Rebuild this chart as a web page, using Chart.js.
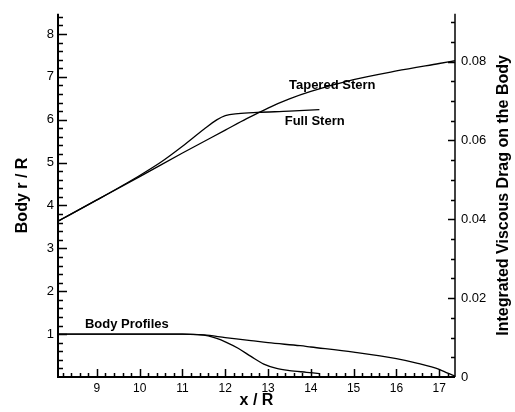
<!DOCTYPE html>
<html>
<head>
<meta charset="utf-8">
<script src="https://cdn.jsdelivr.net/npm/chart.js@4/dist/chart.umd.min.js"></script>
<style>
  html, body { margin: 0; padding: 0; background: #fff; }
  canvas { display: block; }
</style>
</head>
<body>
<canvas id="chart" width="515" height="412"></canvas>
<script>
// integrated viscous drag (right axis)
const taperedDragX = [8.09, 9, 10, 11, 12, 12.5, 13, 13.5, 14, 15, 16, 17, 17.37];
const taperedDragY = [0.0395, 0.0449, 0.0508, 0.0568, 0.0626, 0.0655, 0.0682, 0.0705, 0.0724, 0.0754, 0.0776, 0.0795, 0.0802];
const fullDragX = [8.09, 9, 10, 10.5, 11, 11.5, 11.8, 12, 12.3, 12.75, 13.5, 14.2];
const fullDragY = [0.0395, 0.0449, 0.0511, 0.0545, 0.0585, 0.0628, 0.0652, 0.0663, 0.0668, 0.0671, 0.0674, 0.0678];

// body profiles r/R (left axis)
const taperedBodyX = [8.09, 9, 10, 11, 11.5, 12, 12.6, 13, 13.75, 14, 15, 16, 16.5, 17, 17.2, 17.37];
const taperedBodyY = [1, 1, 1, 1, 0.98, 0.92, 0.85, 0.8, 0.73, 0.7, 0.58, 0.43, 0.32, 0.18, 0.09, 0.02];
const fullBodyX = [8.09, 9, 10, 11, 11.34, 11.6, 11.8, 12, 12.3, 12.6, 12.9, 13.2, 13.5, 13.9, 14.2];
const fullBodyY = [1, 1, 1, 1, 0.99, 0.96, 0.9, 0.82, 0.67, 0.48, 0.3, 0.2, 0.15, 0.11, 0.08];

// tick labels
const xTicks = [9, 10, 11, 12, 13, 14, 15, 16, 17];
const rTicks = [1, 2, 3, 4, 5, 6, 7, 8];
const dragTicks = [0, 0.02, 0.04, 0.06, 0.08];

const font = "'Liberation Sans', Arial, Helvetica, sans-serif";

// text placed on the plot, in data coordinates
const curveLabels = [
  { text: "Tapered Stern", x: 14.5, y: 0.074, axis: "y1" },
  { text: "Full Stern", x: 14.09, y: 0.0647, axis: "y1" },
  { text: "Body Profiles", x: 9.7, y: 1.23, axis: "y" },
];

const toPoints = (xs, ys) => xs.map((x, i) => ({ x: x, y: ys[i] }));

const lineSet = (data, axis) => ({
  data: data,
  yAxisID: axis,
  borderColor: "#000",
  borderWidth: 1.3,
  pointRadius: 0,
  fill: false,
  cubicInterpolationMode: "monotone",
});

// axis lines and inward tick marks, drawn from the scales
const axisPlugin = {
  id: "axisTicks",
  afterDraw(chart) {
    const { ctx, chartArea: a } = chart;
    const x = chart.scales.x;
    const y = chart.scales.y;
    const y1 = chart.scales.y1;
    ctx.save();
    ctx.strokeStyle = "#000";

    ctx.lineWidth = 2;
    ctx.beginPath();
    ctx.moveTo(a.left, a.top);
    ctx.lineTo(a.left, a.bottom);
    ctx.lineTo(a.right, a.bottom);
    ctx.stroke();
    ctx.lineWidth = 1.5;
    ctx.beginPath();
    ctx.moveTo(a.right, a.top);
    ctx.lineTo(a.right, a.bottom);
    ctx.stroke();

    ctx.lineWidth = 1.5;
    ctx.beginPath();
    for (let i = 1; i * 0.2 <= y.max + 1e-9; i++) {
      const py = Math.round(y.getPixelForValue(i * 0.2)) + 0.5;
      const len = i % 5 === 0 ? 9 : 5;
      ctx.moveTo(a.left, py);
      ctx.lineTo(a.left + len, py);
    }
    for (let i = 41; i * 0.2 < x.max; i++) {
      const px = Math.round(x.getPixelForValue(i * 0.2)) + 0.5;
      const len = i % 5 === 0 ? 8 : 4;
      ctx.moveTo(px, a.bottom);
      ctx.lineTo(px, a.bottom - len);
    }
    for (let i = 1; i * 0.005 <= y1.max + 1e-9; i++) {
      const py = Math.round(y1.getPixelForValue(i * 0.005)) + 0.5;
      const len = i % 4 === 0 ? 7 : 4;
      ctx.moveTo(a.right, py);
      ctx.lineTo(a.right - len, py);
    }
    ctx.stroke();

    // curve labels
    ctx.fillStyle = "#000";
    ctx.font = "bold 13px " + font;
    ctx.textAlign = "center";
    ctx.textBaseline = "middle";
    curveLabels.forEach((l) => {
      const sc = chart.scales[l.axis];
      ctx.fillText(l.text, x.getPixelForValue(l.x), sc.getPixelForValue(l.y));
    });

    // right axis title, reading upward
    ctx.translate(504, (a.top + a.bottom) / 2);
    ctx.rotate(-Math.PI / 2);
    ctx.font = "bold 16px " + font;
    ctx.fillText("Integrated Viscous Drag on the Body", 0, 0);
    ctx.restore();
  },
};

new Chart(document.getElementById("chart"), {
  type: "line",
  data: {
    datasets: [
      lineSet(toPoints(taperedDragX, taperedDragY), "y1"),
      lineSet(toPoints(fullDragX, fullDragY), "y1"),
      lineSet(toPoints(taperedBodyX, taperedBodyY), "y"),
      lineSet(toPoints(fullBodyX, fullBodyY), "y"),
    ],
  },
  options: {
    responsive: false,
    animation: false,
    devicePixelRatio: 1,
    layout: { padding: { top: 11, left: 0, right: 0, bottom: 0 } },
    plugins: {
      legend: { display: false },
      tooltip: { enabled: false },
    },
    scales: {
      x: {
        type: "linear",
        min: 8.09,
        max: 17.37,
        grid: { display: false, drawTicks: false },
        border: { display: false },
        afterBuildTicks: (s) => { s.ticks = xTicks.map((v) => ({ value: v })); },
        afterFit: (s) => { s.height = 35; },
        ticks: {
          padding: 4,
          maxRotation: 0,
          color: "#000",
          font: { family: font, size: 12 },
        },
        title: {
          display: true,
          text: "x / R",
          color: "#000",
          padding: { top: 0, bottom: 1.5 },
          font: { family: font, size: 16, weight: "bold" },
        },
      },
      y: {
        position: "left",
        min: 0,
        max: 8.47,
        grid: { display: false, drawTicks: false },
        border: { display: false },
        afterBuildTicks: (s) => { s.ticks = rTicks.map((v) => ({ value: v })); },
        afterFit: (s) => { s.width = 58; },
        ticks: {
          padding: 4,
          color: "#000",
          font: { family: font, size: 13 },
        },
        title: {
          display: true,
          text: "Body r / R",
          color: "#000",
          padding: { top: 13, bottom: 0 },
          font: { family: font, size: 16, weight: "bold" },
        },
      },
      y1: {
        position: "right",
        min: 0,
        max: 0.0921,
        grid: { display: false, drawTicks: false },
        border: { display: false },
        afterBuildTicks: (s) => { s.ticks = dragTicks.map((v) => ({ value: v })); },
        afterFit: (s) => { s.width = 60; },
        ticks: {
          padding: 6,
          color: "#000",
          font: { family: font, size: 13 },
          callback: (v) => (v === 0 ? "0" : v.toFixed(2)),
        },
      },
    },
  },
  plugins: [axisPlugin],
});
</script>
</body>
</html>
